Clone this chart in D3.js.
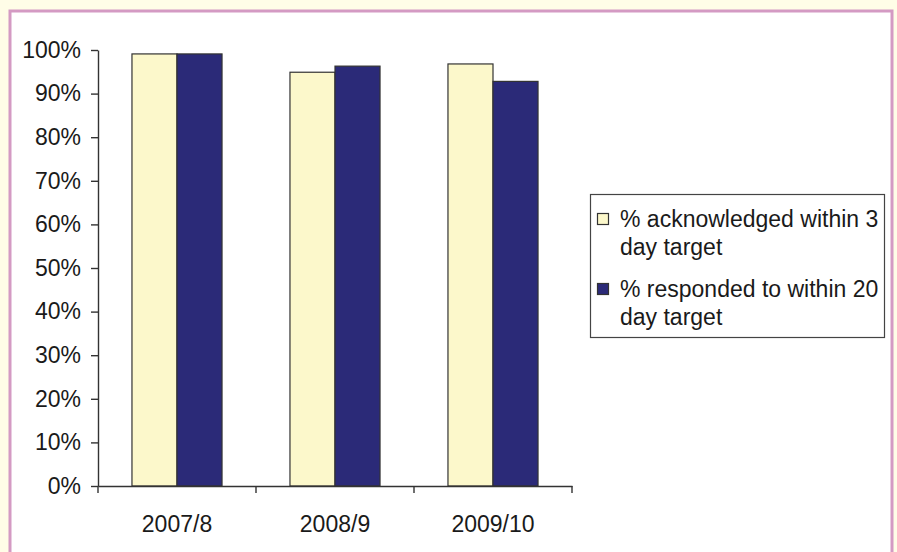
<!DOCTYPE html>
<html>
<head>
<meta charset="utf-8">
<script src="https://cdn.jsdelivr.net/npm/d3@7"></script>
<style>
  body { margin: 0; background: #fffde7; }
  svg { display: block; }
  text { font-family: "Liberation Sans", Arial, sans-serif; fill: #1a1a1a; }
</style>
</head>
<body>
<svg id="svg" width="897" height="552"></svg>
<script>
// chart values
const categories = ["2007/8", "2008/9", "2009/10"];
const seriesNames = ["% acknowledged within 3 day target", "% responded to within 20 day target"];
const legendLines = [["% acknowledged within 3", "day target"], ["% responded to within 20", "day target"]];
const acknowledged = [99.1, 94.9, 96.8];
const responded = [99.1, 96.3, 92.8];
const yTicks = [0, 10, 20, 30, 40, 50, 60, 70, 80, 90, 100];

const colors = ["#fcf8cb", "#2b2a78"];

let svg = d3.select("#svg");

// pink frame with white chart area
svg.append("rect")
    .attr("x", 10).attr("y", 11)
    .attr("width", 882).attr("height", 580)
    .attr("fill", "#ffffff")
    .attr("stroke", "#d49ac3")
    .attr("stroke-width", 3);

let plot = { left: 98, right: 572, top: 50, bottom: 486 };

let x0 = d3.scaleBand()
    .domain(categories)
    .range([plot.left, plot.right])
    .paddingInner(0.43)
    .paddingOuter(0.215);

let x1 = d3.scaleBand()
    .domain([0, 1])
    .range([0, x0.bandwidth()]);

let y = d3.scaleLinear()
    .domain([0, 100])
    .range([plot.bottom, plot.top]);

let data = categories.map((c, i) => ({ cat: c, values: [acknowledged[i], responded[i]] }));

// bars
let groups = svg.append("g").selectAll("g")
    .data(data)
    .join("g")
    .attr("transform", d => `translate(${x0(d.cat)},0)`);

groups.selectAll("rect")
    .data(d => d.values.map((v, k) => ({ k, v })))
    .join("rect")
    .attr("x", d => x1(d.k))
    .attr("y", d => y(d.v))
    .attr("width", x1.bandwidth())
    .attr("height", d => y(0) - y(d.v))
    .attr("fill", d => colors[d.k])
    .attr("stroke", "#333")
    .attr("stroke-width", 1.2);

// y axis
let yAxis = d3.axisLeft(y)
    .tickValues(yTicks)
    .tickFormat(d => d + "%")
    .tickSize(7)
    .tickPadding(10)
    .tickSizeOuter(0);

let yg = svg.append("g")
    .attr("transform", `translate(${plot.left},0)`)
    .call(yAxis);
yg.selectAll("line, path").attr("stroke", "#333").attr("stroke-width", 1.4);
yg.selectAll("text")
    .attr("fill", "#1a1a1a")
    .style("font-size", "23px")
    .style("font-family", "'Liberation Sans', Arial, sans-serif");

// x axis: labels centred in bands, ticks at band edges
let xAxis = d3.axisBottom(x0).tickSize(0).tickPadding(30).tickSizeOuter(0);
let xg = svg.append("g")
    .attr("transform", `translate(0,${plot.bottom})`)
    .call(xAxis);
xg.select("path").attr("stroke", "#333").attr("stroke-width", 1.4);
xg.selectAll("text")
    .attr("fill", "#1a1a1a")
    .style("font-size", "23px")
    .style("font-family", "'Liberation Sans', Arial, sans-serif");

let step = x0.step();
let edges = d3.range(categories.length + 1).map(i => plot.left + i * step);
xg.selectAll(".edge")
    .data(edges)
    .join("line")
    .attr("class", "edge")
    .attr("x1", d => d).attr("x2", d => d)
    .attr("y1", 0).attr("y2", 7)
    .attr("stroke", "#333").attr("stroke-width", 1.4);

// legend
let legend = svg.append("g");
legend.append("rect")
    .attr("x", 590.5).attr("y", 194.5)
    .attr("width", 294).attr("height", 143)
    .attr("fill", "#ffffff")
    .attr("stroke", "#444").attr("stroke-width", 1.2);

let entryY = [227, 297];
legendLines.forEach((lines, k) => {
    legend.append("rect")
        .attr("x", 597.5).attr("y", entryY[k] - 13.5)
        .attr("width", 11).attr("height", 11)
        .attr("fill", colors[k])
        .attr("stroke", "#333").attr("stroke-width", 1.2);
    lines.forEach((t, j) => {
        legend.append("text")
            .attr("x", 620)
            .attr("y", entryY[k] + j * 28)
            .style("font-size", "23px")
            .text(t);
    });
});
</script>
</body>
</html>
